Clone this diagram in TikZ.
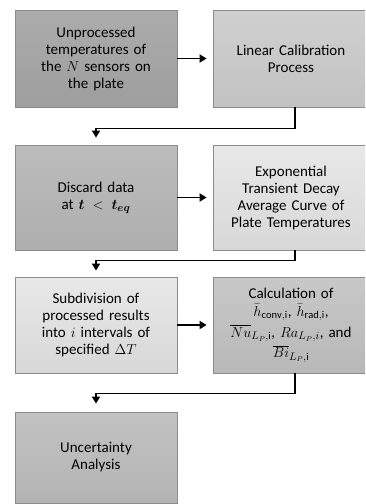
\documentclass[tikz,border=0pt]{standalone}
\usepackage{amsmath}
\usepackage{bm}
\usepackage{fontspec}
\setmainfont{Carlito}
\usetikzlibrary{arrows.meta,calc}
\definecolor{bordergray}{RGB}{140,140,140}
\tikzset{
  box/.style={draw=bordergray, line width=0.8pt, minimum width=#1, text width=152pt,
    align=center, inner sep=0pt, font=\fontsize{15}{17}\selectfont},
  conn/.style={line width=1.8pt, -{Triangle[length=7pt,width=8pt]}},
}
\begin{document}
\begin{tikzpicture}[x=1pt,y=1pt]
\useasboundingbox (0,0) rectangle (365,-504);
\clip (0,0) rectangle (365,-504);
\node[box=162pt, minimum height=97pt, top color={rgb,255:red,172;green,172;blue,172}, bottom color={rgb,255:red,158;green,158;blue,158}] (b1) at (96,-58.5)
  {Unprocessed\\temperatures of\\the $N$ sensors on\\the plate};
\node[box=156pt, minimum height=97pt, top color={rgb,255:red,208;green,208;blue,208}, bottom color={rgb,255:red,194;green,194;blue,194}] (b2) at (291,-58.5)
  {Linear Calibration\\Process};
\node[box=162pt, minimum height=105pt, top color={rgb,255:red,188;green,188;blue,188}, bottom color={rgb,255:red,174;green,174;blue,174}] (b3) at (96,-197.5)
  {Discard data\\at $\bm{t}\mkern-2mu<\mkern-2mu\bm{t_{eq}}$};
\node[box=156pt, minimum height=105pt, top color={rgb,255:red,232;green,232;blue,232}, bottom color={rgb,255:red,216;green,216;blue,216}] (b4) at (291,-197.5)
  {Exponential\\Transient Decay\\Average Curve of\\Plate Temperatures};
\node[box=162pt, minimum height=96pt, top color={rgb,255:red,232;green,232;blue,232}, bottom color={rgb,255:red,216;green,216;blue,216}] (b5) at (96,-325)
  {Subdivision of\\processed results\\into $i$ intervals of\\specified $\Delta T$};
\node[box=156pt, minimum height=96pt, top color={rgb,255:red,200;green,200;blue,200}, bottom color={rgb,255:red,184;green,184;blue,184}] (b6) at (291,-325)
  {Calculation of\\[1pt]$\bar{h}_{\mathrm{conv,i}}$, $\bar{h}_{\mathrm{rad,i}}$,\\[3pt]$\overline{Nu}_{L_P,\mathrm{i}}$, $Ra_{L_P,i}$, and\\[2pt]$\overline{Bi}_{L_P,\mathrm{i}}$};
\node[box=162pt, minimum height=91pt, top color={rgb,255:red,194;green,194;blue,194}, bottom color={rgb,255:red,180;green,180;blue,180}] (b7) at (96,-457.5)
  {Uncertainty\\Analysis};
\draw[conn, shorten >=6pt] (b1.east) -- (b1.east -| b2.west);
\draw[conn, shorten >=6pt] (b3.east) -- (b3.east -| b4.west);
\draw[conn, shorten >=6pt] (b5.east) -- (b5.east -| b6.west);
\coordinate (j1) at ($(b2.south)+(4,-21)$);
\coordinate (j2) at ($(b4.south)+(4,-10)$);
\coordinate (j3) at ($(b6.south)+(4,-20)$);
\draw[conn, shorten >=7pt] ([xshift=4pt]b2.south) -- (j1) -| (b3.north);
\draw[conn, shorten >=6pt] ([xshift=4pt]b4.south) -- (j2) -| (b5.north);
\draw[conn, shorten >=8pt] ([xshift=4pt]b6.south) -- (j3) -| (b7.north);
\end{tikzpicture}
\end{document}
